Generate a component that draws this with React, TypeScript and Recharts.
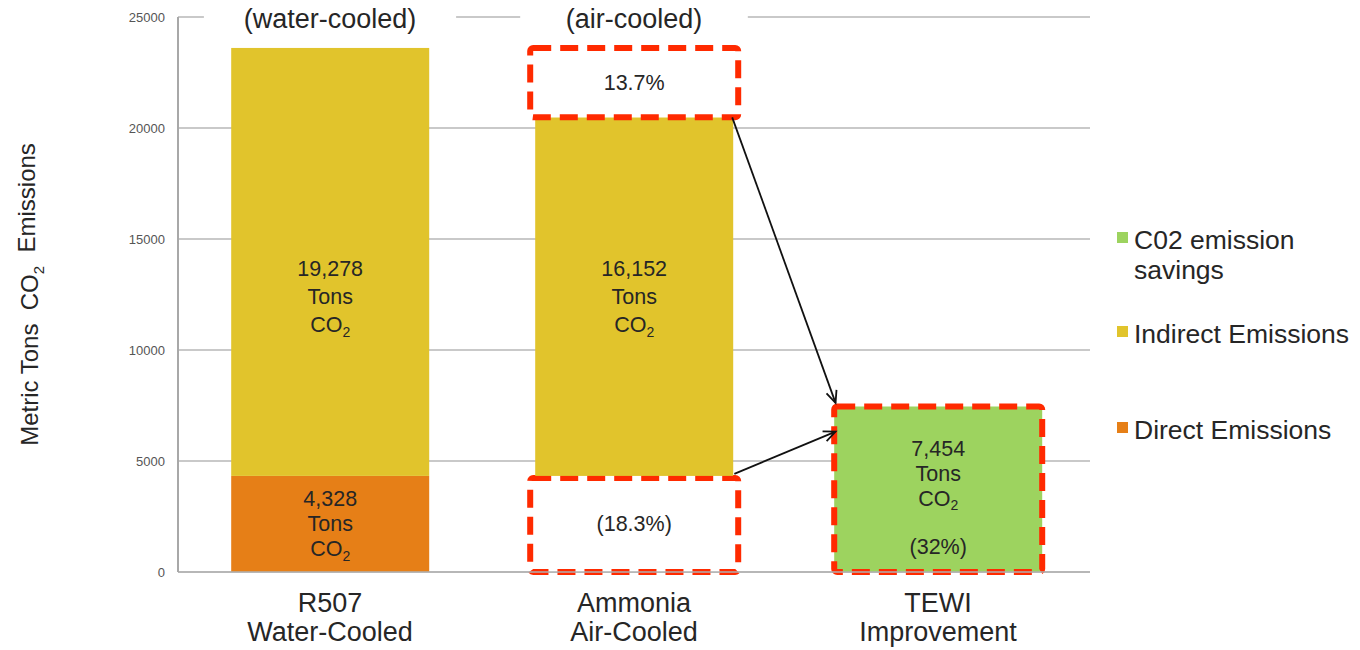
import React from "react";
import {
  BarChart,
  Bar,
  XAxis,
  YAxis,
  CartesianGrid,
  Legend,
  ReferenceLine,
} from "recharts";

// categories and values (metric tons CO2)
const categories = ["R507 Water-Cooled", "Ammonia Air-Cooled", "TEWI Improvement"];
const coolingType = ["(water-cooled)", "(air-cooled)", ""];
const direct = [4328, 0, 0];
const savingsLow = [0, 4328, 0];
const indirect = [19278, 16152, 0];
const savingsHigh = [0, 3126, 0];
const co2Savings = [0, 0, 7454];
const savingsLowPct = ["", "(18.3%)", ""];
const savingsHighPct = ["", "13.7%", ""];
const co2SavingsPct = ["", "", "(32%)"];
const yTicks = [0, 5000, 10000, 15000, 20000, 25000];

const legendNames = ["C02 emission savings", "Indirect Emissions", "Direct Emissions"];

// arrows, in data units (x on a 0..3 axis laid over the three categories)
const arrowFrom = [
  [1.823, 20480],
  [1.83, 4420],
];
const arrowTo = [
  [2.163, 7620],
  [2.163, 6320],
];

const ORANGE = "#e67f17";
const YELLOW = "#e1c42c";
const GREEN = "#9dd35f";
const RED = "#ff2a00";
const TEXT = "#262626";
const legendColors = [GREEN, YELLOW, ORANGE];

const data = categories.map((name, i) => ({
  name,
  pos: i + 0.5,
  direct: direct[i],
  savingsLow: savingsLow[i],
  indirect: indirect[i],
  savingsHigh: savingsHigh[i],
  co2Savings: co2Savings[i],
}));

const fmt = (v: number) => v.toLocaleString("en-US");

function Lines({ cx, cy, lines, gap }: any) {
  return (
    <text textAnchor="middle" fill={TEXT} fontSize={21.5}>
      {lines.map((l: string, i: number) => (
        <tspan key={i} x={cx} y={cy + i * gap} dy="0.35em">
          {l === "CO2" ? (
            <>
              CO<tspan fontSize={14} dy="0.3em">2</tspan>
            </>
          ) : (
            l
          )}
        </tspan>
      ))}
    </text>
  );
}

function DirectShape(p: any) {
  if (!p.height) return null;
  const cx = p.x + p.width / 2;
  return (
    <g>
      <rect x={p.x} y={p.y} width={p.width} height={p.height} fill={ORANGE} />
      <Lines cx={cx} cy={p.y + p.height / 2 - 25} gap={25} lines={[fmt(p.payload.direct), "Tons", "CO2"]} />
    </g>
  );
}

function IndirectShape(p: any) {
  if (!p.height) return null;
  const cx = p.x + p.width / 2;
  return (
    <g>
      <rect x={p.x} y={p.y} width={p.width} height={p.height} fill={YELLOW} />
      <Lines cx={cx} cy={p.y + p.height - 207} gap={28} lines={[fmt(p.payload.indirect), "Tons", "CO2"]} />
    </g>
  );
}

function dashedBox(x: number, y: number, w: number, h: number, fill: string) {
  return (
    <rect
      x={x - 5}
      y={y}
      width={w + 10}
      height={h}
      rx={3}
      fill={fill}
      stroke={RED}
      strokeWidth={6}
      strokeDasharray="18 9"
    />
  );
}

function SavingsLowShape(p: any) {
  if (!p.height) return null;
  return (
    <g>
      {dashedBox(p.x, p.y + 2, p.width, p.height - 2, "#fff")}
      <Lines cx={p.x + p.width / 2} cy={p.y + p.height / 2} gap={0} lines={[savingsLowPct[p.index]]} />
    </g>
  );
}

function SavingsHighShape(p: any) {
  if (!p.height) return null;
  return (
    <g>
      {dashedBox(p.x, p.y, p.width, p.height, "#fff")}
      <Lines cx={p.x + p.width / 2} cy={p.y + p.height / 2} gap={0} lines={[savingsHighPct[p.index]]} />
    </g>
  );
}

function Co2Shape(p: any) {
  if (!p.height) return null;
  const cx = p.x + p.width / 2;
  return (
    <g>
      {dashedBox(p.x, p.y, p.width, p.height, GREEN)}
      <Lines cx={cx} cy={p.y + 42} gap={25} lines={[fmt(p.payload.co2Savings), "Tons", "CO2"]} />
      <Lines cx={cx} cy={p.y + 140} gap={0} lines={[co2SavingsPct[p.index]]} />
    </g>
  );
}

function Arrow(p: any) {
  const { x1, y1, x2, y2 } = p;
  const a = Math.atan2(y2 - y1, x2 - x1);
  const L = 13;
  const s = 0.42;
  const h1 = [x2 - L * Math.cos(a - s), y2 - L * Math.sin(a - s)];
  const h2 = [x2 - L * Math.cos(a + s), y2 - L * Math.sin(a + s)];
  return (
    <g stroke="#111" strokeWidth={1.8} fill="none">
      <line x1={x1} y1={y1} x2={x2} y2={y2} />
      <path d={`M${h1[0]},${h1[1]} L${x2},${y2} L${h2[0]},${h2[1]}`} />
    </g>
  );
}

function BottomTick(p: any) {
  const label: string = p.payload.value;
  const k = label.indexOf(" ");
  const parts = [label.slice(0, k), label.slice(k + 1)];
  return (
    <text textAnchor="middle" fill={TEXT} fontSize={27}>
      {parts.map((t, i) => (
        <tspan key={i} x={p.x} y={p.y + 31 + i * 29} dy="0.35em">
          {t}
        </tspan>
      ))}
    </text>
  );
}

function TopTick(p: any) {
  const label = coolingType[categories.indexOf(p.payload.value)];
  if (!label) return null;
  const w = label.length * 12.3 + 80;
  const y = 17;
  return (
    <g>
      <rect x={p.x - w / 2} y={y - 12} width={w} height={30} fill="#fff" />
      <text x={p.x} y={y + 2} dy="0.35em" textAnchor="middle" fill={TEXT} fontSize={27}>
        {label}
      </text>
    </g>
  );
}

function YTitle(p: any) {
  const vb = p.viewBox || {};
  const x = (vb.x ?? 0) + 30;
  const y = vb.height ? vb.y + vb.height / 2 : 292;
  return (
    <text
      x={x}
      y={y}
      transform={`rotate(-90 ${x} ${y})`}
      textAnchor="middle"
      dy="0.35em"
      fill={TEXT}
      fontSize={24}
    >
      Metric Tons{"\u00a0\u00a0"}CO<tspan fontSize={15} dy="0.35em">2</tspan>
      <tspan dy="-0.35em">{"\u00a0\u00a0"}Emissions</tspan>
    </text>
  );
}

function LegendBox() {
  return (
    <div style={{ fontSize: 26.5, color: TEXT, lineHeight: "30px" }}>
      {legendNames.map((n, i) => (
        <div
          key={n}
          style={{
            display: "flex",
            alignItems: "flex-start",
            marginBottom: i === 0 ? 34 : 66,
          }}
        >
          <span
            style={{
              width: 11,
              height: 11,
              background: legendColors[i],
              marginTop: 7,
              marginRight: 6,
              flex: "none",
            }}
          />
          <span style={{ maxWidth: 222 }}>{n}</span>
        </div>
      ))}
    </div>
  );
}

export default function App() {
  return (
    <div
      style={{
        position: "absolute",
        left: 0,
        top: 0,
        width: 1360,
        height: 650,
        background: "#fff",
        fontFamily: "'Liberation Sans', Arial, sans-serif",
      }}
    >
      <BarChart
        width={1360}
        height={650}
        data={data}
        margin={{ top: 16, right: 27, bottom: 8, left: 0 }}
        barCategoryGap="17.5%"
      >
        <CartesianGrid vertical={false} stroke="#c9c9c9" strokeWidth={2} />
        <XAxis
          dataKey="name"
          height={70}
          tickLine={false}
          tickSize={0}
          tickMargin={0}
          axisLine={{ stroke: "#b0b0b0", strokeWidth: 1.5 }}
          tick={<BottomTick />}
          interval={0}
        />
        <XAxis
          xAxisId="top"
          dataKey="name"
          orientation="top"
          height={1}
          tickLine={false}
          tickSize={0}
          tickMargin={0}
          axisLine={false}
          tick={<TopTick />}
          interval={0}
        />
        <XAxis xAxisId="n" dataKey="pos" type="number" domain={[0, 3]} allowDataOverflow hide />
        <YAxis
          width={178}
          domain={[0, 25000]}
          ticks={yTicks}
          interval={0}
          tickLine={false}
          tickSize={0}
          tickMargin={13}
          axisLine={{ stroke: "#a8a8a8", strokeWidth: 2 }}
          stroke="#a8a8a8"
          tick={{ fill: "#555", fontSize: 13 }}
          label={YTitle}
        />
        <ReferenceLine xAxisId="n" x={0} stroke="#a8a8a8" strokeWidth={2} />
        <Bar dataKey="direct" stackId="a" fill={ORANGE} shape={DirectShape} isAnimationActive={false} />
        <Bar dataKey="savingsLow" stackId="a" fill="#fff" shape={SavingsLowShape} isAnimationActive={false} />
        <Bar dataKey="indirect" stackId="a" fill={YELLOW} shape={IndirectShape} isAnimationActive={false} />
        <Bar dataKey="savingsHigh" stackId="a" fill="#fff" shape={SavingsHighShape} isAnimationActive={false} />
        <Bar dataKey="co2Savings" stackId="a" fill={GREEN} shape={Co2Shape} isAnimationActive={false} />
        {arrowFrom.map((f, i) => (
          <ReferenceLine
            key={i}
            xAxisId="n"
            segment={[
              { x: f[0], y: f[1] },
              { x: arrowTo[i][0], y: arrowTo[i][1] },
            ]}
            shape={Arrow}
          />
        ))}
        <Legend
          layout="horizontal"
          align="right"
          verticalAlign="middle"
          wrapperStyle={{ left: 1117, top: 225, width: 243 }}
          content={LegendBox}
        />
      </BarChart>
    </div>
  );
}
